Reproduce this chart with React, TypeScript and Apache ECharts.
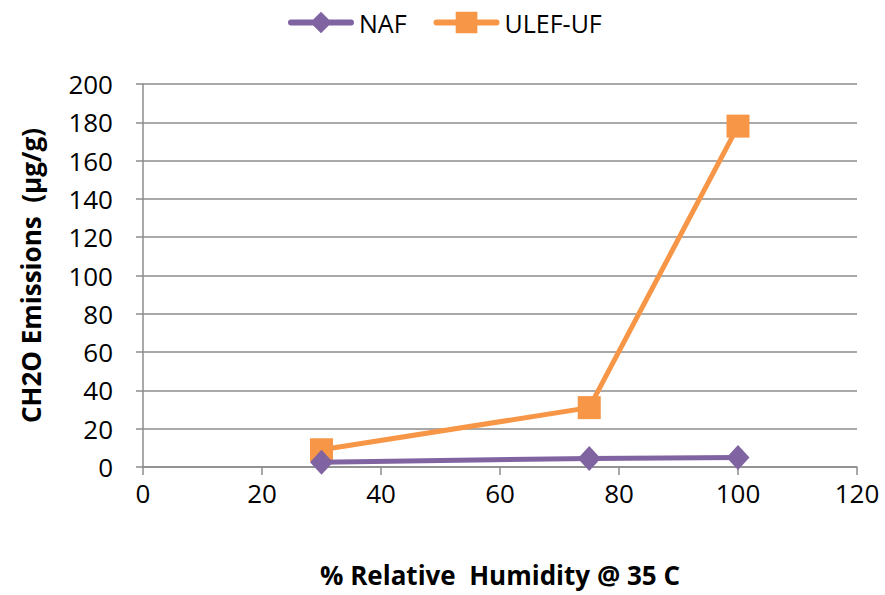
import React, { useEffect, useRef } from "react";
import * as echarts from "echarts";

const xTickMin = 0;
const xTickMax = 120;
const xInterval = 20;
const yTickMin = 0;
const yTickMax = 200;
const yInterval = 20;

const humidity = [30, 75, 100];
const nafValues = [2.5, 4.5, 5];
const ulefValues = [9, 31, 178];

const seriesNames = ["NAF", "ULEF-UF"];
const xTitle = "% Relative  Humidity @ 35 C";
const yTitle = "CH2O Emissions  (µg/g)";

const nafIcon =
  "path://M2.5,8 L63.5,8 A3,3 0 0 1 63.5,14 L2.5,14 A3,3 0 0 1 2.5,8 Z M33,0 L44,11 L33,22 L22,11 Z";
const ulefIcon =
  "path://M2.5,8 L63.5,8 A3,3 0 0 1 63.5,14 L2.5,14 A3,3 0 0 1 2.5,8 Z M22,0 L44,0 L44,22 L22,22 Z";

export default function App() {
  const ref = useRef<HTMLDivElement>(null);
  useEffect(() => {
    if (!ref.current) return;
    const chart = echarts.init(ref.current, undefined, { renderer: "svg" });
    const font = "'Open Sans', Lato, sans-serif";
    chart.setOption({
      animation: false,
      textStyle: { fontFamily: font },
      legend: {
        top: 5,
        left: 283,
        itemWidth: 66,
        itemHeight: 22,
        itemGap: 27,
        textStyle: { fontSize: 25, color: "#000", fontFamily: font },
        data: [
          { name: seriesNames[0], icon: nafIcon },
          { name: seriesNames[1], icon: ulefIcon },
        ],
      },
      grid: { left: 143, right: 28, top: 84, bottom: 128, containLabel: false },
      xAxis: {
        type: "value",
        min: xTickMin,
        max: xTickMax,
        interval: xInterval,
        name: xTitle,
        nameLocation: "middle",
        nameGap: 95,
        nameTextStyle: { fontSize: 26, fontWeight: "bold", color: "#000", fontFamily: font },
        axisLine: { show: true, lineStyle: { color: "#8c8c8c", width: 1.5 } },
        axisTick: { show: true, length: 8, lineStyle: { color: "#8c8c8c", width: 1.5 } },
        axisLabel: { fontSize: 26, color: "#000", margin: 13, fontFamily: font },
        splitLine: { show: false },
      },
      yAxis: {
        type: "value",
        min: yTickMin,
        max: yTickMax,
        interval: yInterval,
        name: yTitle,
        nameLocation: "middle",
        nameGap: 99,
        nameRotate: 90,
        nameTextStyle: { fontSize: 26, fontWeight: "bold", color: "#000", fontFamily: font },
        axisLine: { show: true, lineStyle: { color: "#8c8c8c", width: 1.5 } },
        axisTick: { show: true, length: 7, lineStyle: { color: "#8c8c8c", width: 1.5 } },
        axisLabel: { fontSize: 26, color: "#000", margin: 30, fontFamily: font },
        splitLine: { show: true, lineStyle: { color: "#8c8c8c", width: 1.5 } },
      },
      series: [
        {
          name: seriesNames[0],
          type: "line",
          data: humidity.map((x, i) => [x, nafValues[i]]),
          symbol: "diamond",
          symbolSize: [23, 25],
          lineStyle: { color: "#8064A2", width: 5 },
          itemStyle: { color: "#8064A2" },
          z: 3,
        },
        {
          name: seriesNames[1],
          type: "line",
          data: humidity.map((x, i) => [x, ulefValues[i]]),
          symbol: "rect",
          symbolSize: 23,
          lineStyle: { color: "#F79646", width: 5 },
          itemStyle: { color: "#F79646" },
          z: 2,
        },
      ],
    });
    return () => chart.dispose();
  }, []);
  return <div ref={ref} style={{ width: 885, height: 595, position: "absolute", left: 0, top: 0 }} />;
}
